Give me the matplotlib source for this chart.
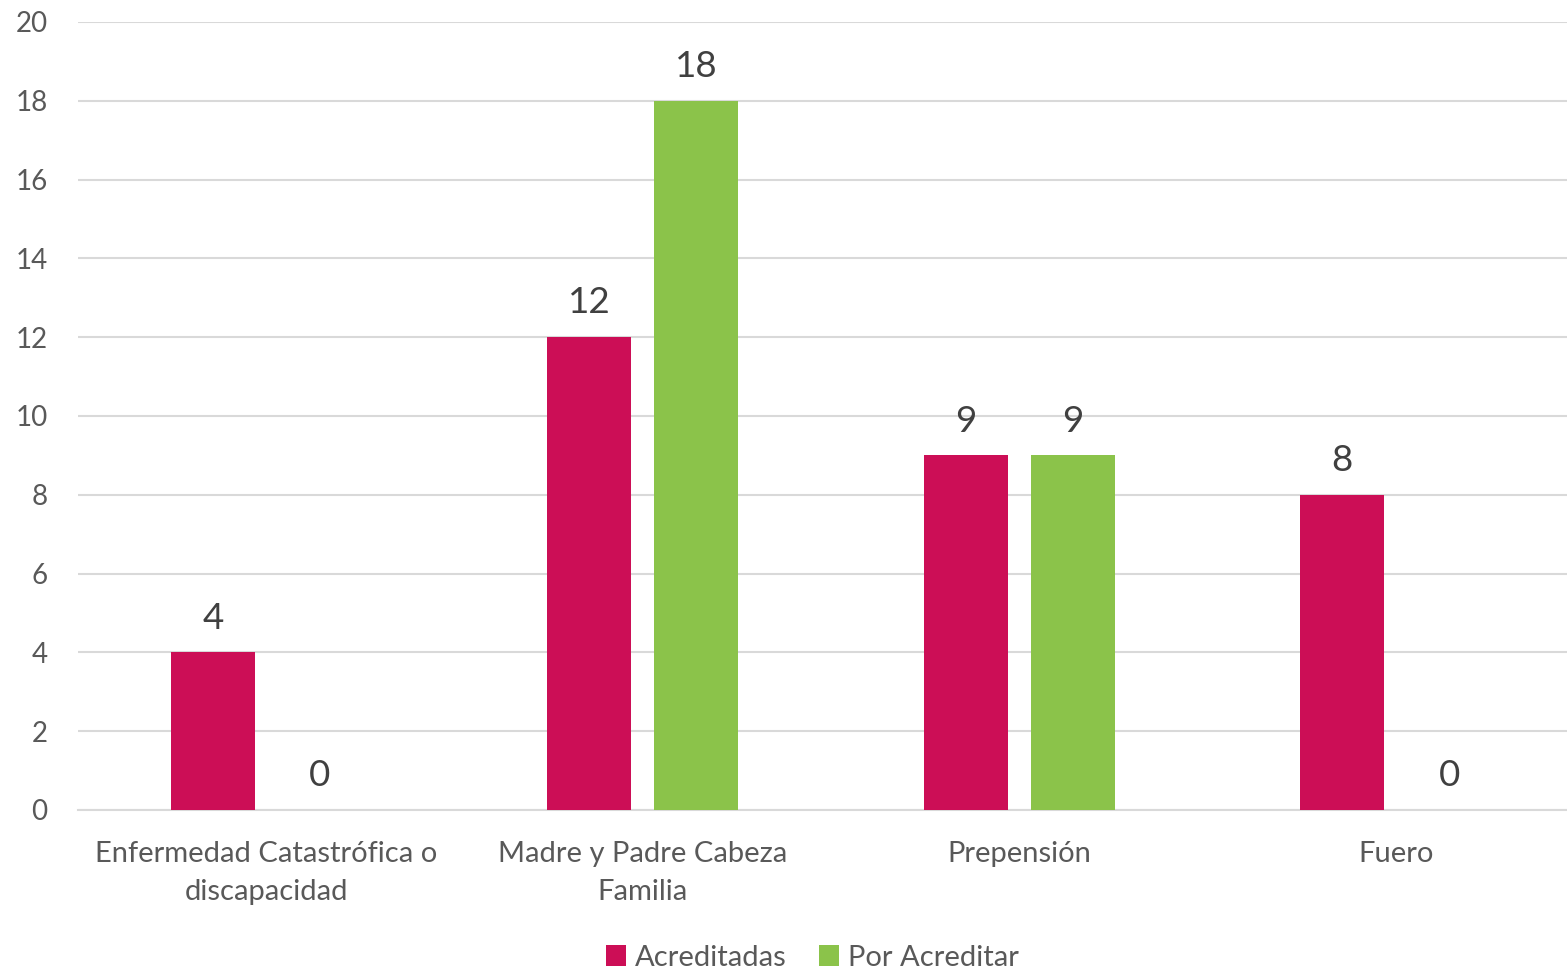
import matplotlib.pyplot as plt
import numpy as np

plt.rcParams['font.family'] = ['Lato', 'DejaVu Sans']

categories = ['Enfermedad Catastrófica o\ndiscapacidad', 'Madre y Padre Cabeza\nFamilia',
              'Prepensión', 'Fuero']
acreditadas = [4, 12, 9, 8]
por_acreditar = [0, 18, 9, 0]
yticks = [0, 2, 4, 6, 8, 10, 12, 14, 16, 18, 20]

red = '#CC0E56'
green = '#8BC34A'
grid_c = '#D9D9D9'

fig = plt.figure(figsize=(15.67, 9.68), dpi=100)
ax = fig.add_axes([78 / 1567, 158 / 968, 1 - 78 / 1567, (810 - 22) / 968])

x = np.arange(len(categories))
w = 0.223
off = 0.142
b1 = ax.bar(x - off, acreditadas, w, color=red, label='Acreditadas', zorder=3)
b2 = ax.bar(x + off, por_acreditar, w, color=green, label='Por Acreditar', zorder=3)

for bars in (b1, b2):
    for b in bars:
        ax.text(b.get_x() + b.get_width() / 2, b.get_height() + 0.45, f'{int(b.get_height())}',
                ha='center', va='bottom', fontsize=26.5, color='#404040')

ax.set_xlim(-0.5, 3.455)
ax.set_ylim(0, 20)
ax.set_yticks(yticks)
ax.set_xticks(x)
ax.set_xticklabels(categories, linespacing=1.6)
ax.grid(axis='y', color=grid_c, linewidth=1.5, zorder=0)
for s in ['top', 'right', 'left']:
    ax.spines[s].set_visible(False)
ax.spines['bottom'].set_color(grid_c)
ax.spines['bottom'].set_linewidth(1.5)
ax.tick_params(axis='y', length=0, labelsize=20, labelcolor='#595959', pad=22)
ax.tick_params(axis='x', length=0, labelsize=21, labelcolor='#595959', pad=22)

ax.legend(loc='lower center', bbox_to_anchor=(0.493, -0.237), ncol=2, frameon=False,
          fontsize=21, handlelength=0.7, handleheight=0.7, handletextpad=0.3, columnspacing=1.1,
          labelcolor='#595959')

fig.savefig('out.png')
